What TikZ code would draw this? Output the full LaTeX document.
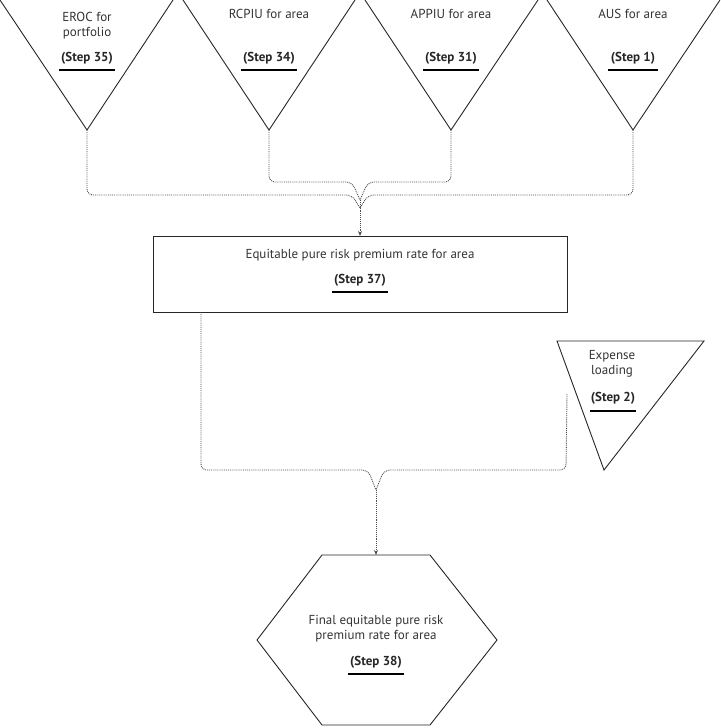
\documentclass[tikz,border=0pt]{standalone}
\usepackage{fontspec}
\setmainfont{PT Sans}
\usetikzlibrary{arrows.meta}
\begin{document}
\begin{tikzpicture}[x=1pt,y=-1pt,
  shp/.style={draw=black!85,line width=0.9pt},
  lbl/.style={font=\fontsize{13}{15}\selectfont,text=black!80,align=center,inner sep=0},
  stp/.style={font=\fontsize{13}{15}\selectfont\bfseries,text=black!85,inner sep=0},
  ul/.style={line width=2.6pt,black},
  con/.style={densely dotted,line width=0.9pt,black!70,rounded corners=6pt},
  arr/.style={con,-{Stealth[length=5pt,width=4pt]}}]
\useasboundingbox (0,0) rectangle (720,728);
\begin{scope}
\clip (0,0) rectangle (720,728);
% triangles
\draw[shp] (0,0) -- (87,130) coordinate (a1) -- (173,0);
\draw[shp] (183,0) -- (269,130) coordinate (a2) -- (355,0);
\draw[shp] (365,0) -- (451,130) coordinate (a3) -- (538,0);
\draw[shp] (547,0) -- (633,130) coordinate (a4) -- (720,0);
\node[lbl] (t1) at (87,26) {EROC for\\portfolio};
\node[stp] (s1) at (87,58) {(Step 35)};
\draw[ul] (59,70) -- (115,70);
\node[lbl] (t2) at (269,14) {RCPIU for area};
\node[stp] (s2) at (269,58) {(Step 34)};
\draw[ul] (241,70) -- (297,70);
\node[lbl] (t3) at (451,14) {APPIU for area};
\node[stp] (s3) at (451,58) {(Step 31)};
\draw[ul] (423,70) -- (479,70);
\node[lbl] (t4) at (633,14) {AUS for area};
\node[stp] (s4) at (633,58) {(Step 1)};
\draw[ul] (608,70) -- (658,70);
% box
\node[shp,minimum width=414pt,minimum height=76pt,inner sep=0] (box) at (360,274) {};
\node[lbl] (bt) at (360,255) {Equitable pure risk premium rate for area};
\node[stp] (bs) at (360,280) {(Step 37)};
\draw[ul] (332,292) -- (388,292);
% expense triangle
\draw[shp] (557,341) -- (604,470) coordinate (a5) -- (704,341) -- cycle;
\node[lbl] (et) at (612,364) {Expense\\loading};
\node[stp] (es) at (613,398) {(Step 2)};
\draw[ul] (590,411) -- (636,411);
\coordinate (e5) at (567,394);
% hexagon
\draw[shp] (322,555) coordinate (h) -- (430,555) -- (497,640) -- (430,725) -- (322,725) -- (257,640) -- cycle;
\coordinate (htop) at (376,555);
\node[lbl] (ht) at (376,629) {Final equitable pure risk\\premium rate for area};
\node[stp] (hs) at (376,662) {(Step 38)};
\draw[ul] (348,674) -- (404,674);
% connectors
\coordinate (boxtop) at (360,236);
\draw[con] (a1) -- (87,195) -- (352,195) -- (360,208);
\draw[con] (a2) -- (269,182) -- (352,182) -- (360,200);
\draw[con] (a3) -- (451,182) -- (368,182) -- (360,200);
\draw[con] (a4) -- (633,195) -- (368,195) -- (360,208);
\draw[arr] (360,200) -- (boxtop);
\draw[con] (201,312) -- (201,470) -- (368,470) -- (376,490);
\draw[con] (e5) -- (566,470) -- (384,470) -- (376,490);
\draw[arr] (376,490) -- (htop);
\end{scope}
\end{tikzpicture}
\end{document}
